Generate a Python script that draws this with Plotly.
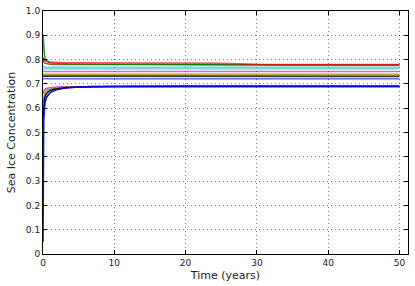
import plotly.graph_objects as go

# Time axis (years)
time = [0, 0.05, 0.1, 0.2, 0.3, 0.5, 0.75, 1, 1.5, 2, 3, 4, 5, 7, 10, 15, 20, 25, 30, 35, 40, 45, 50]

# Upper group (start high, settle near 0.78)
green_hi = [0.90, 0.86, 0.84, 0.82, 0.805, 0.795, 0.79, 0.787, 0.785, 0.784, 0.783, 0.782, 0.782, 0.781, 0.781, 0.781, 0.781, 0.780, 0.778, 0.777, 0.777, 0.777, 0.777]
red_hi = [0.81, 0.805, 0.80, 0.797, 0.795, 0.793, 0.791, 0.790, 0.789, 0.788, 0.787, 0.787, 0.787, 0.787, 0.787, 0.787, 0.787, 0.785, 0.781, 0.780, 0.780, 0.780, 0.780]
darkred_hi = [0.80, 0.795, 0.79, 0.787, 0.785, 0.783, 0.782, 0.781, 0.780, 0.780, 0.780, 0.780, 0.780, 0.780, 0.780, 0.780, 0.780, 0.779, 0.779, 0.779, 0.779, 0.779, 0.779]
cyan_a = [0.775, 0.772, 0.770, 0.769, 0.768, 0.768, 0.768, 0.768, 0.768, 0.768, 0.768, 0.768, 0.768, 0.768, 0.768, 0.768, 0.768, 0.768, 0.768, 0.768, 0.768, 0.768, 0.768]
cyan_b = [0.762, 0.762, 0.762, 0.762, 0.762, 0.762, 0.762, 0.762, 0.762, 0.762, 0.762, 0.762, 0.762, 0.762, 0.762, 0.762, 0.762, 0.762, 0.762, 0.762, 0.762, 0.762, 0.762]
magenta_mid = [0.751, 0.751, 0.751, 0.751, 0.751, 0.751, 0.751, 0.751, 0.751, 0.751, 0.751, 0.751, 0.751, 0.751, 0.751, 0.751, 0.751, 0.751, 0.751, 0.751, 0.751, 0.751, 0.751]
olive_mid = [0.739, 0.739, 0.739, 0.739, 0.739, 0.739, 0.739, 0.739, 0.739, 0.739, 0.739, 0.739, 0.739, 0.739, 0.739, 0.739, 0.739, 0.739, 0.739, 0.739, 0.739, 0.739, 0.739]
black_mid = [0.732, 0.732, 0.732, 0.732, 0.732, 0.732, 0.732, 0.732, 0.732, 0.732, 0.732, 0.732, 0.732, 0.732, 0.732, 0.732, 0.732, 0.732, 0.732, 0.731, 0.731, 0.731, 0.731]
blue_mid = [0.721, 0.721, 0.721, 0.721, 0.721, 0.721, 0.721, 0.721, 0.721, 0.721, 0.721, 0.721, 0.721, 0.721, 0.721, 0.721, 0.721, 0.721, 0.721, 0.719, 0.721, 0.721, 0.721]

# Lower group (start low, rise to ~0.69)
magenta_lo = [0.66, 0.665, 0.67, 0.675, 0.678, 0.681, 0.683, 0.684, 0.686, 0.687, 0.688, 0.688, 0.689, 0.689, 0.689, 0.689, 0.689, 0.689, 0.689, 0.689, 0.689, 0.689, 0.689]
olive_lo = [0.62, 0.635, 0.645, 0.657, 0.665, 0.672, 0.676, 0.679, 0.682, 0.684, 0.686, 0.687, 0.688, 0.689, 0.689, 0.689, 0.689, 0.689, 0.689, 0.689, 0.689, 0.689, 0.689]
black_lo = [0.56, 0.59, 0.61, 0.635, 0.648, 0.661, 0.668, 0.673, 0.678, 0.681, 0.684, 0.686, 0.687, 0.688, 0.689, 0.689, 0.689, 0.689, 0.689, 0.689, 0.689, 0.689, 0.689]
blue_lo = [0.05, 0.45, 0.55, 0.60, 0.625, 0.645, 0.657, 0.664, 0.672, 0.677, 0.682, 0.685, 0.687, 0.689, 0.690, 0.691, 0.691, 0.691, 0.691, 0.691, 0.691, 0.691, 0.691]

x_ticks = [0, 10, 20, 30, 40, 50]
y_ticks = [0, 0.1, 0.2, 0.3, 0.4, 0.5, 0.6, 0.7, 0.8, 0.9, 1.0]
y_tick_labels = ["0", "0.1", "0.2", "0.3", "0.4", "0.5", "0.6", "0.7", "0.8", "0.9", "1.0"]

series = [
    (cyan_a, "rgba(0,191,191,0.6)"),
    (cyan_b, "rgba(0,191,191,0.45)"),
    (magenta_mid, "rgba(191,0,191,0.6)"),
    (olive_mid, "rgba(160,160,0,0.85)"),
    (black_mid, "rgba(0,0,0,0.8)"),
    (blue_mid, "rgba(0,0,255,0.6)"),
    (darkred_hi, "rgba(140,40,0,0.8)"),
    (green_hi, "rgba(0,128,0,0.8)"),
    (red_hi, "rgba(255,0,0,0.7)"),
    (magenta_lo, "rgba(191,0,191,0.7)"),
    (olive_lo, "rgba(160,160,0,0.85)"),
    (black_lo, "rgba(0,0,0,0.9)"),
    (blue_lo, "rgba(0,0,255,0.95)"),
]

fig = go.Figure()
for vals, col in series:
    fig.add_trace(go.Scatter(x=time, y=vals, mode="lines",
                             line=dict(color=col, width=1.6), showlegend=False))

axis_common = dict(
    showline=True, linecolor="black", linewidth=1, mirror="ticks",
    ticks="inside", ticklen=4, tickcolor="black",
    showgrid=True, gridcolor="rgba(0,0,0,0.5)", griddash="1px,3px", gridwidth=1,
    zeroline=False,
    tickfont=dict(family="DejaVu Sans", size=9, color="#222"),
)

fig.update_xaxes(range=[0, 51.2], tickvals=x_ticks,
                 title=dict(text="Time (years)", font=dict(family="DejaVu Sans", size=11, color="#222"), standoff=4),
                 **axis_common)
fig.update_yaxes(range=[0, 1.0], tickvals=y_ticks, ticktext=y_tick_labels,
                 title=dict(text="Sea Ice Concentration", font=dict(family="DejaVu Sans", size=11, color="#222"), standoff=8),
                 **axis_common)

fig.update_layout(width=415, height=286, margin=dict(l=43, r=7, t=11, b=32, autoexpand=False),
                  paper_bgcolor="white", plot_bgcolor="white")

fig.write_html("out.html",
               config={"displayModeBar": False},
               post_script="document.body.style.margin='0';document.body.style.padding='0';")
